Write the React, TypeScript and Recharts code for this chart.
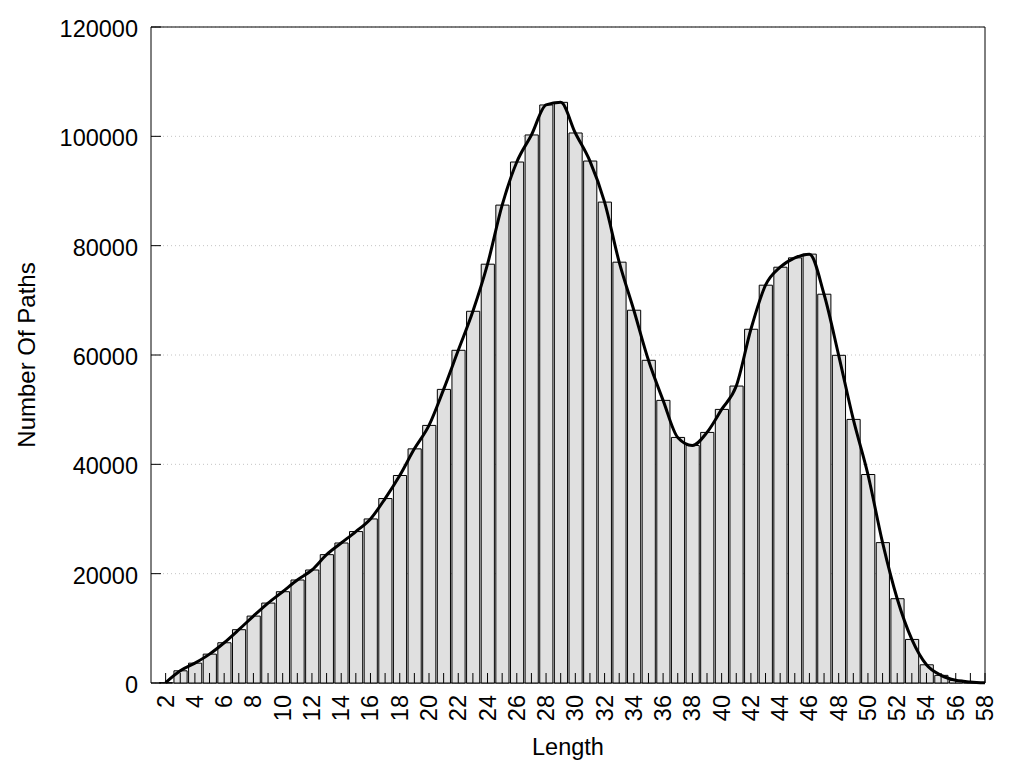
import React from 'react';
import {
  ComposedChart,
  Bar,
  Line,
  XAxis,
  YAxis,
  CartesianGrid,
  ReferenceArea,
  Label,
} from 'recharts';

// Path lengths (x categories)
const lengths = [
  2, 3, 4, 5, 6, 7, 8, 9, 10, 11, 12, 13, 14, 15, 16, 17, 18, 19, 20, 21, 22, 23, 24, 25, 26, 27, 28, 29,
  30, 31, 32, 33, 34, 35, 36, 37, 38, 39, 40, 41, 42, 43, 44, 45, 46, 47, 48, 49, 50, 51, 52, 53, 54, 55,
  56, 57, 58,
];

// Number of paths for each length
const pathCounts = [
  60, 2230, 3630, 5280, 7360, 9750, 12240, 14620, 16700, 18840, 20670, 23480, 25610, 27700, 30010, 33740,
  37960, 42830, 47120, 53710, 60860, 68000, 76610, 87420, 95300, 100250, 105740, 106220, 100610, 95480,
  87970, 76980, 68190, 59030, 51700, 44920, 43450, 45840, 50050, 54320, 64710, 72770, 76060, 77770, 78450,
  71120, 59940, 48220, 38140, 25680, 15420, 7970, 3330, 1400, 500, 200, 40,
];

const yTicks = [0, 20000, 40000, 60000, 80000, 100000, 120000];
const xTicks = lengths;
const xDomain = [1, 58];
const yDomain = [0, 120000];

const data = lengths.map((len, i) => ({ length: len, count: pathCounts[i] }));

const WIDTH = 1024;
const HEIGHT = 768;
const MARGIN = { top: 27, right: 39, left: 10, bottom: 10 };
const Y_AXIS_W = 141;
const X_AXIS_H = 75;
const PLOT_W = WIDTH - MARGIN.left - MARGIN.right - Y_AXIS_W;
const BAR_W = PLOT_W / (xDomain[1] - xDomain[0]);
const TICK_LEN = 10;
const FONT = '"Liberation Sans", Arial, Helvetica, sans-serif';
const FS = 23.5;

const XTick = (props: any) => {
  const { x, y, payload } = props;
  const v = payload.value;
  const ly = y + 12;
  return (
    <g>
      <line x1={x} x2={x} y1={y} y2={y - TICK_LEN} stroke="#000" strokeWidth={1} />
      {v % 2 === 0 && (
        <text
          x={x}
          y={ly}
          transform={`rotate(-90 ${x} ${ly})`}
          textAnchor="end"
          dominantBaseline="central"
          fontFamily={FONT}
          fontSize={FS}
          fill="#000"
        >
          {v}
        </text>
      )}
    </g>
  );
};

const YTick = (props: any) => {
  const { x, y, payload } = props;
  return (
    <g>
      <line x1={x} x2={x + TICK_LEN} y1={y} y2={y} stroke="#000" strokeWidth={1} />
      <text
        x={x - 13}
        y={y + 2}
        textAnchor="end"
        dominantBaseline="central"
        fontFamily={FONT}
        fontSize={FS}
        fill="#000"
      >
        {payload.value}
      </text>
    </g>
  );
};

const YLabel = (props: any) => {
  const vb = props.viewBox || {};
  const cy = vb.y + vb.height / 2;
  const cx = 26;
  return (
    <text
      x={cx}
      y={cy}
      transform={`rotate(-90 ${cx} ${cy})`}
      textAnchor="middle"
      dominantBaseline="central"
      fontFamily={FONT}
      fontSize={24}
      fill="#000"
    >
      Number Of Paths
    </text>
  );
};

const XLabel = (props: any) => {
  const vb = props.viewBox || {};
  const cx = vb.x + vb.width / 2;
  return (
    <text
      x={cx}
      y={747}
      textAnchor="middle"
      dominantBaseline="central"
      fontFamily={FONT}
      fontSize={FS}
      fill="#000"
    >
      Length
    </text>
  );
};

export default function App() {
  return (
    <div style={{ position: 'absolute', left: 0, top: 0, background: '#fff' }}>
      <ComposedChart width={WIDTH} height={HEIGHT} data={data} margin={MARGIN} barCategoryGap={0} barGap={0}>
        <CartesianGrid
          horizontal
          vertical={false}
          stroke="#c4c4c4"
          strokeDasharray="1 3"
        />
        <XAxis
          dataKey="length"
          type="number"
          domain={xDomain}
          ticks={xTicks}
          interval={0}
          allowDataOverflow
          height={X_AXIS_H}
          tickSize={0}
          tickMargin={0}
          tickLine={false}
          axisLine={false}
          tick={<XTick />}
        >
          <Label content={<XLabel />} />
        </XAxis>
        <YAxis
          type="number"
          domain={yDomain}
          ticks={yTicks}
          interval={0}
          width={Y_AXIS_W}
          tickSize={0}
          tickMargin={0}
          tickLine={false}
          axisLine={false}
          tick={<YTick />}
        >
          <Label content={<YLabel />} />
        </YAxis>
        <Bar
          dataKey="count"
          fill="#e0e0e0"
          stroke="#000"
          strokeWidth={1}
          barSize={BAR_W}
          isAnimationActive={false}
        />
        <Line
          dataKey="count"
          type="monotone"
          stroke="#000"
          strokeWidth={3}
          dot={false}
          activeDot={false}
          isAnimationActive={false}
        />
        <ReferenceArea
          x1={xDomain[0]}
          x2={xDomain[1]}
          y1={yDomain[0]}
          y2={yDomain[1]}
          fill="none"
          fillOpacity={0}
          stroke="#000"
          strokeWidth={1}
          ifOverflow="visible"
        />
      </ComposedChart>
    </div>
  );
}
